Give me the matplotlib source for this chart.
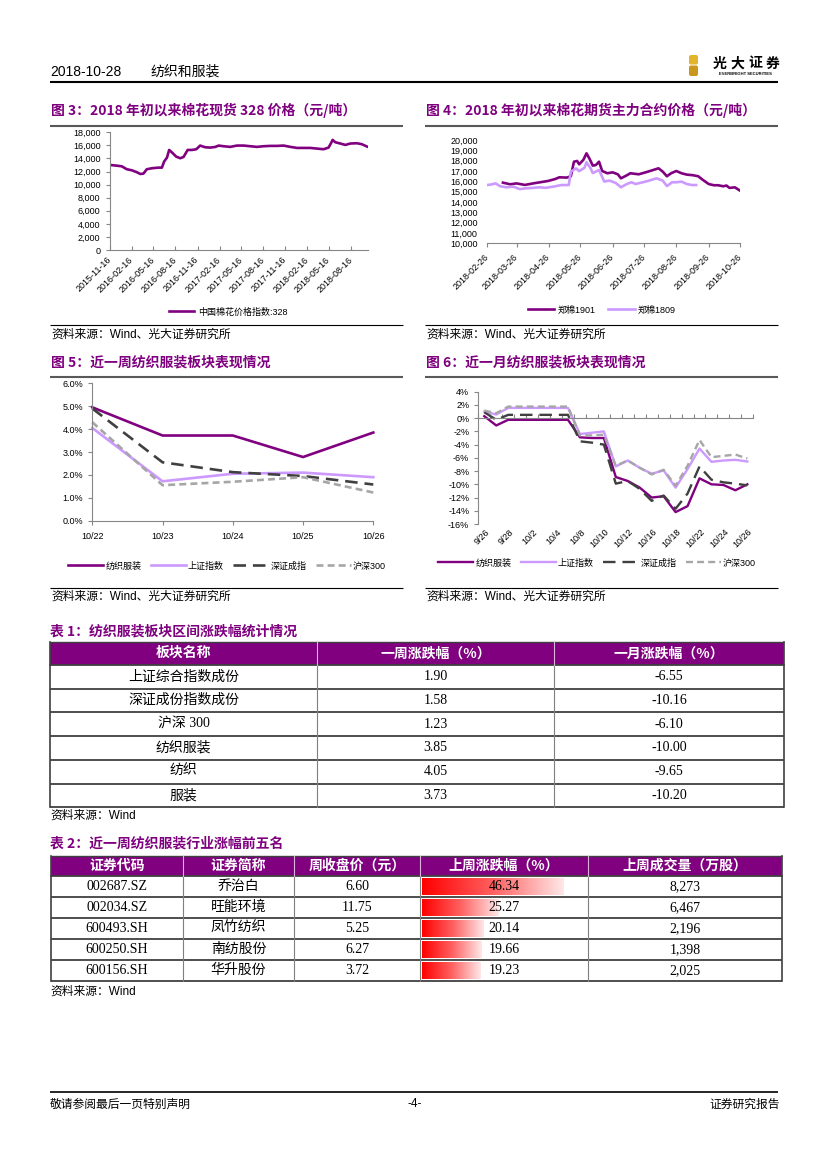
import matplotlib
matplotlib.use('Agg')
import matplotlib.pyplot as plt
from matplotlib.colors import LinearSegmentedColormap
from matplotlib.patches import Rectangle, FancyBboxPatch
from matplotlib.ticker import FuncFormatter
import numpy as np
import pandas as pd

plt.rcParams['font.family'] = ['Liberation Sans', 'Noto Sans CJK SC']
plt.rcParams['axes.unicode_minus'] = False
plt.rcParams['lines.scale_dashes'] = False

CJK = ['Noto Sans CJK SC', 'Liberation Sans']
SERIF = ['Liberation Serif', 'Noto Sans CJK SC']

# ---------------- 数据 ----------------
# 图3：棉花现货328价格
F3_DATES = ['2015-11-16', '2015-12-16', '2016-01-06', '2016-01-27', '2016-02-17', '2016-03-09',
            '2016-03-23', '2016-04-05', '2016-04-19', '2016-05-10', '2016-06-07', '2016-06-21',
            '2016-06-30', '2016-07-12', '2016-07-21', '2016-08-01', '2016-08-19', '2016-09-05',
            '2016-09-19', '2016-10-06', '2016-10-24', '2016-11-11', '2016-11-27', '2016-12-18',
            '2017-01-08', '2017-01-29', '2017-02-12', '2017-03-04', '2017-04-01', '2017-04-29',
            '2017-05-27', '2017-06-23', '2017-07-21', '2017-08-18', '2017-09-15', '2017-10-12',
            '2017-11-09', '2017-12-07', '2018-01-04', '2018-01-31', '2018-02-28', '2018-03-28',
            '2018-04-24', '2018-05-15', '2018-05-25', '2018-06-01', '2018-06-12', '2018-07-03',
            '2018-07-24', '2018-08-13', '2018-09-10', '2018-10-01', '2018-10-22', '2018-10-26']
F3_VALUES = [13010, 12900, 12800, 12350, 12190, 11890,
             11630, 11680, 12350, 12500, 12600, 12600,
             13520, 14130, 15300, 14950, 14290, 14030,
             14230, 15300, 15300, 15410, 15970, 15710,
             15660, 15760, 15970, 15870, 15770, 15970,
             15970, 15870, 15770, 15870, 15920, 15920,
             15970, 15770, 15610, 15610, 15610, 15510,
             15410, 15660, 16330, 16840, 16480, 16280,
             16070, 16280, 16330, 16170, 15820, 15770]
F3_TICKS = ['2015-11-16', '2016-02-16', '2016-05-16', '2016-08-16', '2016-11-16', '2017-02-16',
            '2017-05-16', '2017-08-16', '2017-11-16', '2018-02-16', '2018-05-16', '2018-08-16']

# 图4：棉花期货主力合约价格
F4_1901_DATES = ['2018-03-13', '2018-03-20', '2018-03-26', '2018-04-03', '2018-04-11', '2018-04-17',
                 '2018-04-25', '2018-05-02', '2018-05-06', '2018-05-13', '2018-05-17', '2018-05-20',
                 '2018-05-23', '2018-05-25', '2018-05-29', '2018-06-01', '2018-06-04', '2018-06-07',
                 '2018-06-10', '2018-06-13', '2018-06-16', '2018-06-21', '2018-06-26', '2018-07-01',
                 '2018-07-04', '2018-07-09', '2018-07-13', '2018-07-21', '2018-07-28', '2018-08-04',
                 '2018-08-09', '2018-08-13', '2018-08-17', '2018-08-21', '2018-08-26', '2018-08-31',
                 '2018-09-05', '2018-09-11', '2018-09-16', '2018-09-20', '2018-09-26', '2018-10-01',
                 '2018-10-05', '2018-10-10', '2018-10-13', '2018-10-16', '2018-10-21', '2018-10-26']
F4_1901 = [15870, 15710, 15800, 15650, 15800, 15900,
           16030, 16220, 16390, 16360, 16490, 17900,
           17970, 17650, 18080, 18710, 18160, 17520,
           17580, 17900, 17000, 16780, 16870, 16680,
           16290, 16550, 16780, 16680, 16880, 17100,
           17260, 16940, 16490, 16780, 17000, 16780,
           16650, 16590, 16490, 16170, 15740, 15620,
           15620, 15520, 15590, 15360, 15420, 15100]
F4_1809_DATES = ['2018-02-26', '2018-03-02', '2018-03-06', '2018-03-10', '2018-03-16', '2018-03-23',
                 '2018-03-29', '2018-04-04', '2018-04-11', '2018-04-17', '2018-04-23', '2018-04-30',
                 '2018-05-08', '2018-05-15', '2018-05-17', '2018-05-22', '2018-05-25', '2018-05-30',
                 '2018-06-01', '2018-06-05', '2018-06-07', '2018-06-10', '2018-06-13', '2018-06-18',
                 '2018-06-23', '2018-06-29', '2018-07-04', '2018-07-09', '2018-07-14', '2018-07-18',
                 '2018-07-25', '2018-07-31', '2018-08-07', '2018-08-13', '2018-08-17', '2018-08-22',
                 '2018-08-26', '2018-08-31', '2018-09-05', '2018-09-10', '2018-09-14']
F4_1809 = [15640, 15700, 15800, 15540, 15420, 15480,
           15250, 15320, 15370, 15420, 15370, 15480,
           15640, 15640, 16930, 17250, 16990, 17300,
           17840, 17250, 16800, 16940, 17100, 15980,
           16070, 15840, 15420, 15710, 15910, 15740,
           15910, 16070, 16290, 16070, 15540, 15910,
           15910, 15970, 15740, 15640, 15640]
F4_TICKS = ['2018-02-26', '2018-03-26', '2018-04-26', '2018-05-26', '2018-06-26',
            '2018-07-26', '2018-08-26', '2018-09-26', '2018-10-26']

# 图5：近一周表现（%）
F5_DATES = ['10/22', '10/23', '10/24', '10/25', '10/26']
F5_TEXTILE = [4.95, 3.72, 3.72, 2.78, 3.85]
F5_SH = [4.05, 1.72, 2.05, 2.10, 1.90]
F5_SZ = [4.90, 2.55, 2.12, 1.95, 1.58]
F5_HS300 = [4.30, 1.55, 1.70, 1.90, 1.23]

# 图6：近一月表现（%）
F6_DATES = ['9/26', '9/27', '9/28', '10/1', '10/2', '10/3', '10/4', '10/5', '10/8', '10/9', '10/10',
            '10/11', '10/12', '10/15', '10/16', '10/17', '10/18', '10/19', '10/22', '10/23',
            '10/24', '10/25', '10/26']
F6_TEXTILE = [0.3, -1.1, -0.25, -0.25, -0.25, -0.25, -0.25, -0.25, -2.9, -3.0, -3.0, -8.9,
              -9.5, -10.5, -12.0, -11.8, -14.2, -13.3, -9.1, -10.0, -10.1, -10.9, -10.0]
F6_SH = [1.0, 0.55, 1.55, 1.55, 1.55, 1.55, 1.55, 1.55, -2.4, -2.2, -2.0, -7.3,
         -6.4, -7.5, -8.4, -7.9, -10.5, -7.7, -4.6, -6.6, -6.4, -6.3, -6.55]
F6_SZ = [0.9, -0.25, 0.5, 0.5, 0.5, 0.5, 0.5, 0.5, -3.5, -3.7, -4.0, -9.9,
         -9.5, -10.7, -12.5, -11.7, -13.7, -11.4, -7.3, -9.3, -9.7, -9.9, -10.16]
F6_HS300 = [1.15, 0.75, 1.75, 1.75, 1.75, 1.75, 1.75, 1.75, -2.6, -2.6, -2.5, -7.2,
            -6.4, -7.5, -8.5, -7.8, -10.2, -7.2, -3.3, -5.9, -5.7, -5.5, -6.1]

# 表1
T1_COLS = ['板块名称', '一周涨跌幅（%）', '一月涨跌幅（%）']
T1_NAMES = ['上证综合指数成份', '深证成份指数成份', '沪深 300', '纺织服装', '纺织', '服装']
T1_WEEK = [1.90, 1.58, 1.23, 3.85, 4.05, 3.73]
T1_MONTH = [-6.55, -10.16, -6.10, -10.00, -9.65, -10.20]

# 表2
T2_COLS = ['证券代码', '证券简称', '周收盘价（元）', '上周涨跌幅（%）', '上周成交量（万股）']
T2_CODE = ['002687.SZ', '002034.SZ', '600493.SH', '600250.SH', '600156.SH']
T2_NAME = ['乔治白', '旺能环境', '凤竹纺织', '南纺股份', '华升股份']
T2_CLOSE = [6.60, 11.75, 5.25, 6.27, 3.72]
T2_CHG = [46.34, 25.27, 20.14, 19.66, 19.23]
T2_VOL = [8273, 6467, 2196, 1398, 2025]

# ---------------- 样式 ----------------
PURPLE = '#800080'
LILAC = '#CC99FF'
DARK = '#404040'
GRAY = '#A6A6A6'
TITLE_C = '#7F007F'
AXIS_C = '#868686'

W, H = 827, 1169
fig = plt.figure(figsize=(W / 100, H / 100), dpi=100)
fig.patch.set_facecolor('white')

# 整页坐标（像素）
pg = fig.add_axes([0, 0, 1, 1])
pg.axis('off')


def add_ax(l, t, r, b):
    return fig.add_axes([l / W, 1 - b / H, (r - l) / W, (b - t) / H])


def style_axes(ax):
    for s in ['top', 'right']:
        ax.spines[s].set_visible(False)
    for s in ['left', 'bottom']:
        ax.spines[s].set_color(AXIS_C)
        ax.spines[s].set_linewidth(0.8)
    ax.tick_params(labelsize=6.5, colors=AXIS_C, labelcolor='black', length=3, width=0.8)
    ax.patch.set_alpha(0)


def hline(y, x0, x1, color='black', lw=0.8):
    pg.plot([x0, x1], [y, y], color=color, lw=lw, solid_capstyle='butt')


def chart_title(x, y, s, size=10):
    pg.text(x, y, s, color=TITLE_C, fontsize=size, fontweight='bold', family=CJK,
            ha='left', va='center')


def source(x, y, s):
    pg.text(x, y, s, fontsize=8.5, ha='left', va='center')


# ---------------- 页眉 ----------------
pg.text(50, 72, '2018-10-28', fontsize=10, ha='left', va='center')
pg.text(150, 72, '纺织和服装', fontsize=10, family=CJK, ha='left', va='center')
hline(81.5, 50, 778, color='black', lw=1.5)
pg.add_patch(FancyBboxPatch((689, 55), 9, 9.5, boxstyle='round,pad=0,rounding_size=2',
                            facecolor='#E3B52B', edgecolor='none'))
pg.add_patch(FancyBboxPatch((689, 65.5), 9, 10.5, boxstyle='round,pad=0,rounding_size=2',
                            facecolor='#C9971C', edgecolor='none'))
for k, ch in enumerate('光大证券'):
    pg.text(713 + k * 17.5, 63.5, ch, fontsize=10, fontweight='bold', family=CJK,
            ha='left', va='center')
pg.text(745, 74, 'EVERBRIGHT SECURITIES', fontsize=3, fontweight='bold', ha='center', va='center')

# ---------------- 图3 ----------------
chart_title(51, 110, '图 3：2018 年初以来棉花现货 328 价格（元/吨）')
hline(126, 50, 403, color='#595959', lw=1.5)
ax3 = add_ax(109.5, 132.3, 368, 250)
ax3.plot(pd.to_datetime(F3_DATES), F3_VALUES, color=PURPLE, lw=1.9, label='中国棉花价格指数:328')
ax3.set_xlim(pd.Timestamp('2015-11-16'), pd.Timestamp('2018-10-26'))
ax3.set_ylim(0, 18000)
ax3.set_yticks(np.arange(0, 18001, 2000))
ax3.yaxis.set_major_formatter(FuncFormatter(lambda v, p: f'{v:,.0f}'))
ax3.set_xticks(pd.to_datetime(F3_TICKS))
ax3.set_xticklabels(F3_TICKS, rotation=45, ha='right', va='center', rotation_mode='anchor')
style_axes(ax3)
ax3.tick_params(axis='x', direction='in', pad=6)
ax3.legend(loc='center', bbox_to_anchor=(228 / W, 1 - 312 / H), bbox_transform=fig.transFigure,
           frameon=False, fontsize=6.5, handlelength=2.8, handletextpad=0.4,
           borderpad=0, borderaxespad=0)
hline(325, 50, 403)
source(51, 335, '资料来源：Wind、光大证券研究所')

# ---------------- 图4 ----------------
chart_title(426, 110, '图 4：2018 年初以来棉花期货主力合约价格（元/吨）')
hline(126, 425, 778, color='#595959', lw=1.5)
ax4 = add_ax(487.3, 140, 740, 243.3)
ax4.plot(pd.to_datetime(F4_1901_DATES), F4_1901, color=PURPLE, lw=1.9, label='郑棉1901')
ax4.plot(pd.to_datetime(F4_1809_DATES), F4_1809, color=LILAC, lw=1.9, label='郑棉1809')
ax4.set_xlim(pd.Timestamp('2018-02-26'), pd.Timestamp('2018-10-26'))
ax4.set_ylim(10000, 20000)
ax4.set_yticks(np.arange(10000, 20001, 1000))
ax4.yaxis.set_major_formatter(FuncFormatter(lambda v, p: f'{v:,.0f}'))
ax4.set_xticks(pd.to_datetime(F4_TICKS))
ax4.set_xticklabels(F4_TICKS, rotation=45, ha='right', va='center', rotation_mode='anchor')
style_axes(ax4)
ax4.spines['left'].set_visible(False)
ax4.tick_params(axis='y', length=0, pad=7)
ax4.tick_params(axis='x', pad=6)
ax4.legend(loc='center', bbox_to_anchor=(602 / W, 1 - 310 / H), bbox_transform=fig.transFigure,
           ncol=2, frameon=False, fontsize=6.5, handlelength=2.9, handletextpad=0.4,
           columnspacing=1.4, borderpad=0, borderaxespad=0)
hline(325, 425, 778)
source(426, 335, '资料来源：Wind、光大证券研究所')


# ---------------- 图5 / 图6 共用 ----------------
def draw_four(ax, x, a, b, c, d, lw):
    ax.plot(x, a, color=PURPLE, lw=lw, label='纺织服装', clip_on=False)
    ax.plot(x, b, color=LILAC, lw=lw, label='上证指数', clip_on=False)
    ax.plot(x, c, color=DARK, lw=lw, dashes=(9, 5), label='深证成指', clip_on=False)
    ax.plot(x, d, color=GRAY, lw=lw, dashes=(5, 3), label='沪深300', clip_on=False)


def four_legend(ax, cx, cy):
    ax.legend(loc='center', bbox_to_anchor=(cx / W, 1 - cy / H), bbox_transform=fig.transFigure,
              ncol=4, frameon=False, fontsize=6.5, handlelength=3.9, handletextpad=0.25,
              columnspacing=1.0, borderpad=0, borderaxespad=0)


# ---------------- 图5 ----------------
chart_title(51, 362, '图 5：近一周纺织服装板块表现情况')
hline(377, 50, 403, color='#595959', lw=1.5)
ax5 = add_ax(92.3, 383.3, 373.3, 520.7)
x5 = np.arange(len(F5_DATES))
draw_four(ax5, x5, F5_TEXTILE, F5_SH, F5_SZ, F5_HS300, 1.9)
ax5.set_xlim(0, len(F5_DATES) - 1)
ax5.set_ylim(0, 6)
ax5.set_yticks(np.arange(0, 6.1, 1))
ax5.yaxis.set_major_formatter(FuncFormatter(lambda v, p: f'{v:.1f}%'))
ax5.set_xticks(x5)
ax5.set_xticklabels(F5_DATES)
style_axes(ax5)
ax5.tick_params(axis='x', pad=5)
four_legend(ax5, 227, 566)
hline(587.5, 50, 403)
source(51, 597, '资料来源：Wind、光大证券研究所')

# ---------------- 图6 ----------------
chart_title(426, 362, '图 6：近一月纺织服装板块表现情况')
hline(377, 425, 778, color='#595959', lw=1.5)
ax6 = add_ax(478.3, 391.7, 753.3, 524)
x6 = np.arange(len(F6_DATES))
draw_four(ax6, x6, F6_TEXTILE, F6_SH, F6_SZ, F6_HS300, 1.7)
ax6.set_xlim(-0.5, len(F6_DATES) - 0.5)
ax6.set_ylim(-16, 4)
ax6.set_yticks(np.arange(-16, 4.1, 2))
ax6.yaxis.set_major_formatter(FuncFormatter(lambda v, p: f'{v:.0f}%'))
style_axes(ax6)
ax6.spines['bottom'].set_position(('data', 0))
ax6.set_xticks(np.arange(-0.5, len(F6_DATES), 1))
ax6.set_xticklabels([])
ax6.tick_params(axis='x', direction='in', length=3)
for i in range(0, len(F6_DATES), 2):
    ax6.text(i + 0.3, -0.05, F6_DATES[i], transform=ax6.get_xaxis_transform(), rotation=45,
             ha='right', va='center', rotation_mode='anchor', fontsize=6.5)
four_legend(ax6, 597, 563)
hline(587.5, 425, 778)
source(426, 597, '资料来源：Wind、光大证券研究所')

# ---------------- 表1 ----------------
chart_title(50, 631, '表 1：纺织服装板块区间涨跌幅统计情况')
T1_X = [50, 317, 554, 784]
t1_top, t1_hh, t1_rh = 641.5, 23.5, 23.7
pg.add_patch(Rectangle((T1_X[0], t1_top), T1_X[-1] - T1_X[0], t1_hh, facecolor=PURPLE,
                       edgecolor='none'))
for j, col in enumerate(T1_COLS):
    pg.text((T1_X[j] + T1_X[j + 1]) / 2, t1_top + t1_hh / 2, col, color='white', fontsize=10,
            fontweight='bold', family=CJK, ha='center', va='center')
t1_body = t1_top + t1_hh
for i, (nm, wk, mo) in enumerate(zip(T1_NAMES, T1_WEEK, T1_MONTH)):
    yc = t1_body + (i + 0.5) * t1_rh
    pg.text((T1_X[0] + T1_X[1]) / 2, yc, nm, fontsize=10, family=SERIF, ha='center', va='center')
    pg.text((T1_X[1] + T1_X[2]) / 2, yc, f'{wk:.2f}', fontsize=10, family=SERIF,
            ha='center', va='center')
    pg.text((T1_X[2] + T1_X[3]) / 2, yc, f'{mo:.2f}', fontsize=10, family=SERIF,
            ha='center', va='center')
t1_bot = t1_body + len(T1_NAMES) * t1_rh
for i in range(len(T1_NAMES) + 1):
    hline(t1_body + i * t1_rh, T1_X[0], T1_X[-1], color=DARK, lw=1.3)
hline(t1_top, T1_X[0], T1_X[-1], color=DARK, lw=1.0)
for k, xe in enumerate(T1_X):
    edge = k in (0, len(T1_X) - 1)
    pg.plot([xe, xe], [t1_body, t1_bot], color=DARK if edge else '#7F7F7F',
            lw=1.2 if edge else 0.8)
    pg.plot([xe, xe], [t1_top, t1_body], color=DARK if edge else '#D9B3D9',
            lw=1.2 if edge else 0.8)
source(50, 816, '资料来源：Wind')

# ---------------- 表2 ----------------
chart_title(50, 843, '表 2：近一周纺织服装行业涨幅前五名')
T2_X = [50.5, 183, 294, 420, 588, 782]
t2_top, t2_hh, t2_rh = 856, 20, 21
pg.add_patch(Rectangle((T2_X[0], t2_top), T2_X[-1] - T2_X[0], t2_hh, facecolor=PURPLE,
                       edgecolor='none'))
for j, col in enumerate(T2_COLS):
    pg.text((T2_X[j] + T2_X[j + 1]) / 2, t2_top + t2_hh / 2, col, color='white', fontsize=10,
            fontweight='bold', family=CJK, ha='center', va='center')
t2_body = t2_top + t2_hh
bar_cmap = LinearSegmentedColormap.from_list('bar', ['#FF0000', '#FF6060', '#FFE8E8'])
grad = np.linspace(0, 1, 256).reshape(1, -1)
chg_max = max(T2_CHG)
cell_w = T2_X[4] - T2_X[3]
for i in range(len(T2_CODE)):
    yt = t2_body + i * t2_rh
    yc = yt + t2_rh / 2
    blen = T2_CHG[i] / chg_max * 0.84 * cell_w
    pg.imshow(grad, cmap=bar_cmap, aspect='auto', interpolation='bilinear',
              extent=(T2_X[3] + 1.5, T2_X[3] + 1.5 + blen, yt + t2_rh - 2, yt + 2), zorder=1)
    cells = [T2_CODE[i], T2_NAME[i], f'{T2_CLOSE[i]:.2f}', f'{T2_CHG[i]:.2f}', f'{T2_VOL[i]:,}']
    for j, s in enumerate(cells):
        pg.text((T2_X[j] + T2_X[j + 1]) / 2, yc, s, fontsize=10, family=SERIF,
                ha='center', va='center', zorder=3)
t2_bot = t2_body + len(T2_CODE) * t2_rh
for i in range(len(T2_CODE) + 1):
    hline(t2_body + i * t2_rh, T2_X[0], T2_X[-1], color=DARK, lw=1.3)
hline(t2_top, T2_X[0], T2_X[-1], color=DARK, lw=1.0)
for k, xe in enumerate(T2_X):
    edge = k in (0, len(T2_X) - 1)
    pg.plot([xe, xe], [t2_body, t2_bot], color=DARK if edge else '#7F7F7F',
            lw=1.2 if edge else 0.8)
    pg.plot([xe, xe], [t2_top, t2_body], color=DARK if edge else '#D9B3D9',
            lw=1.2 if edge else 0.8)
source(50, 992, '资料来源：Wind')

# ---------------- 页脚 ----------------
hline(1091.5, 50, 778, color='black', lw=1.2)
pg.text(50, 1104, '敬请参阅最后一页特别声明', fontsize=8.5, family=CJK, ha='left', va='center')
pg.text(415, 1104, '-4-', fontsize=8.5, ha='center', va='center')
pg.text(780, 1104, '证券研究报告', fontsize=8.5, family=CJK, ha='right', va='center')

pg.set_xlim(0, W)
pg.set_ylim(H, 0)

fig.savefig('out.png', dpi=100)
